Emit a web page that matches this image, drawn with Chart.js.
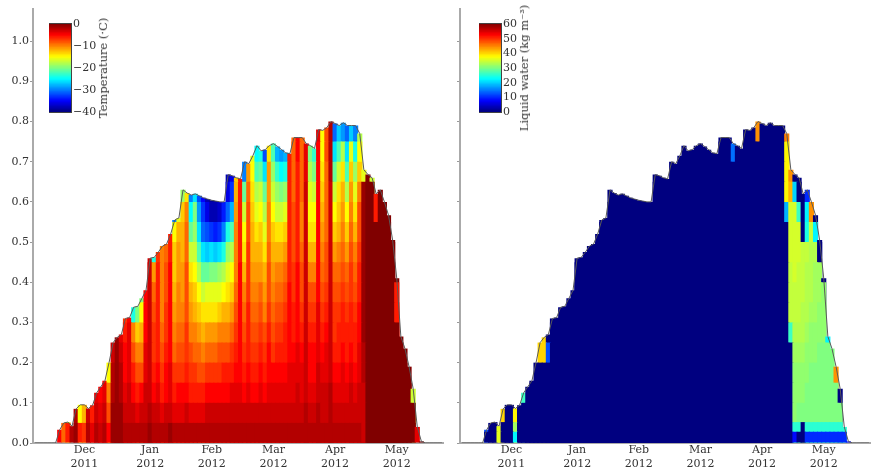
<!DOCTYPE html>
<html>
<head>
<meta charset="utf-8">
<script src="https://cdn.jsdelivr.net/npm/chart.js@4"></script>
<style>
  html, body { margin: 0; padding: 0; background: #fff; width: 871px; height: 468px; overflow: hidden; }
  canvas { position: absolute; filter: blur(.4px); }
  .cbar-title { position: absolute; font: 11.5px "DejaVu Serif"; color: #333; white-space: nowrap;
    transform: translate(-50%, -50%) rotate(-90deg); }
</style>
</head>
<body>
<canvas id="temperature" width="444" height="468" style="left:0;top:0"></canvas>
<canvas id="liquid" width="444" height="468" style="left:427px;top:0"></canvas>
<canvas id="temp-bar" width="60" height="108" style="left:49px;top:14px"></canvas>
<canvas id="liquid-bar" width="60" height="108" style="left:479px;top:14px"></canvas>
<div class="cbar-title" style="left:103px;top:68px">Temperature (·C)</div>
<div class="cbar-title" style="left:524px;top:68px">Liquid water (kg m⁻³)</div>
<script>
// one column = 2 days, first column 7 Nov 2011
const depths = [
  0, 0, 0, 0, 0, 0, .033, .05, .052, .042, .085, .095,
  .095, .086, .094, .125, .14, .155, .2, .25, .263, .27, .31, .312, .338, .34, .36, .38,
  .46, .462, .475, .49, .495, .52, .555, .56, .63, .622, .617, .62, .615, .61, .607,
  .604, .602, .6, .6, .668, .665, .66, .657, .7, .695, .715, .74, .727, .73, .74,
  .745, .738, .73, .722, .72, .76, .76, .76, .745, .74, .733, .78, .778, .785, .8,
  .795, .79, .797, .79, .79, .79, .77, .68, .668, .66, .62, .63, .6, .567, .505,
  .41, .265, .235, .19, .135, .04, .004, 0, 0, 0, 0, 0
];

const tickIndex = [12, 28, 43, 58, 73, 88];
const tickLabels = [['Dec', '2011'], ['Jan', '2012'], ['Feb', '2012'], ['Mar', '2012'], ['Apr', '2012'], ['May', '2012']];
const depthTicks = [0, .1, .2, .3, .4, .5, .6, .7, .8, .9, 1];

// temperature per column, from the ground up, one value per 0.05 m
const novColumns = [
  [], [], [], [], [], [],
  [-5], [-9], [-6, -16], [-2],
  [-1, -2], [-6, -15]
];
const decColumns = [
  [-7, -12], [-2, -3], [-4, -6], [-2, -3, -4], [-3, -4, -5], [-2, -3, -4, -5],
  [-5, -8, -10, -15], [-1, -1, -2, -2, -3], [-1, -1, -1, -1, -1, -1], [-1, -1, -2, -2, -3, -4],
  [-2, -3, -4, -5, -5, -6, -7], [-2, -3, -3, -4, -4, -4, -5],
  [-2, -3, -5, -6, -8, -10, -24], [-2, -4, -6, -8, -10, -13, -20],
  [-2, -3, -5, -8, -10, -12, -15, -20], [-2, -3, -3, -4, -4, -5, -5, -5]
];
const janColumns = [
  [-1, -2, -3, -3, -3, -3, -3, -3, -3, -3],
  [-2, -3, -5, -6, -7, -7, -8, -9, -11, -24],
  [-2, -3, -4, -5, -6, -6, -6, -6, -6, -7],
  [-2, -4, -6, -7, -8, -9, -10, -10, -10, -10],
  [-2, -3, -5, -5, -6, -7, -7, -8, -8, -9],
  [-1, -3, -4, -4, -5, -5, -5, -5, -5, -6, -6],
  [-2, -4, -6, -7, -9, -10, -11, -12, -13, -13, -15, -30],
  [-2, -4, -5, -7, -8, -9, -10, -10, -11, -11, -12, -16],
  [-2, -4, -5, -7, -8, -9, -10, -11, -11, -12, -12, -13, -19],
  [-2, -3, -5, -6, -7, -7, -8, -8, -8, -9, -9, -10, -14],
  [-2, -4, -6, -7, -8, -10, -11, -12, -14, -17, -21, -25, -30],
  [-2, -4, -6, -7, -9, -10, -12, -13, -15, -17, -19, -20, -26],
  [-2, -4, -6, -8, -9, -11, -13, -15, -18, -22, -26, -29, -32],
  [-2, -4, -6, -8, -10, -12, -14, -17, -21, -26, -31, -33, -35],
  [-2, -3, -5, -7, -9, -11, -14, -16, -21, -27, -32, -36, -38]
];
const febColumns = [
  [-2, -3, -5, -7, -9, -11, -14, -16, -20, -26, -33, -38, -39],
  [-2, -3, -5, -7, -9, -11, -14, -16, -20, -27, -34, -38, -39],
  [-2, -3, -5, -7, -8, -10, -13, -16, -19, -26, -33, -37, -39],
  [-2, -3, -5, -6, -8, -10, -12, -15, -18, -24, -30, -34, -36],
  [-2, -3, -5, -6, -8, -10, -12, -14, -16, -19, -24, -31, -36, -38],
  [-2, -3, -4, -6, -7, -9, -11, -13, -15, -18, -22, -28, -33, -36],
  [-2, -3, -4, -5, -6, -7, -8, -9, -10, -10, -10, -11, -12, -13],
  [-2, -3, -4, -5, -5, -5, -5, -5, -5, -6, -6, -6, -6, -6],
  [-2, -3, -5, -6, -7, -8, -9, -10, -12, -14, -15, -17, -21, -30],
  [-2, -3, -4, -5, -6, -6, -6, -7, -7, -7, -8, -8, -9, -11],
  [-2, -3, -5, -6, -7, -8, -9, -10, -11, -12, -12, -13, -14, -15, -16],
  [-2, -3, -5, -6, -7, -8, -9, -10, -11, -12, -14, -16, -18, -22, -25],
  [-2, -3, -4, -5, -6, -7, -8, -9, -11, -12, -13, -15, -17, -21, -24],
  [-2, -3, -5, -6, -7, -8, -10, -11, -12, -14, -16, -18, -21, -26, -32],
  [-2, -3, -4, -5, -5, -6, -7, -8, -8, -9, -10, -10, -11, -11, -14]
];
const marColumns = [
  [-2, -3, -4, -5, -7, -8, -9, -10, -11, -12, -13, -15, -17, -19, -22],
  [-2, -3, -4, -5, -6, -7, -8, -9, -10, -12, -14, -17, -19, -23, -28],
  [-2, -3, -4, -5, -6, -7, -8, -9, -10, -12, -14, -17, -20, -25, -29],
  [-2, -3, -4, -5, -6, -6, -7, -8, -9, -11, -13, -16, -19, -24, -28],
  [-2, -3, -4, -4, -5, -5, -5, -5, -6, -6, -6, -6, -6, -6, -6],
  [-2, -3, -4, -4, -5, -6, -6, -7, -7, -8, -8, -8, -9, -9, -9, -9],
  [-2, -3, -3, -4, -4, -5, -5, -5, -5, -6, -6, -6, -6, -6, -5, -5],
  [-2, -3, -4, -4, -5, -6, -7, -8, -8, -9, -10, -10, -9, -9, -9, -9],
  [-2, -2, -3, -3, -3, -3, -3, -3, -3, -3, -3, -3, -3, -4, -4],
  [-2, -3, -4, -5, -5, -6, -7, -8, -10, -12, -14, -15, -16, -18, -20],
  [-2, -3, -4, -5, -5, -6, -7, -8, -10, -12, -14, -15, -17, -20, -23],
  [-2, -2, -3, -3, -4, -4, -4, -5, -5, -5, -5, -5, -5, -5, -5, -4],
  [-2, -3, -3, -4, -5, -6, -7, -8, -9, -10, -11, -12, -13, -14, -15, -15],
  [-2, -3, -3, -4, -4, -5, -6, -7, -8, -8, -9, -9, -9, -9, -8, -8],
  [-2, -2, -2, -3, -3, -3, -3, -3, -3, -3, -3, -3, -3, -2, -2, -2]
];
const aprColumns = [
  [-2, -3, -4, -5, -6, -7, -7, -8, -9, -11, -13, -15, -17, -21, -26, -31],
  [-2, -3, -4, -5, -6, -6, -7, -8, -9, -10, -12, -13, -14, -17, -22, -27],
  [-2, -3, -4, -4, -5, -6, -6, -7, -8, -9, -10, -11, -12, -14, -18, -29],
  [-2, -3, -4, -5, -6, -6, -7, -8, -9, -11, -13, -15, -18, -22, -26, -31],
  [-2, -3, -3, -4, -5, -6, -6, -7, -7, -8, -9, -10, -11, -13, -16, -27],
  [-2, -3, -4, -5, -6, -6, -7, -8, -9, -10, -12, -14, -16, -19, -24, -30],
  [-2, -3, -3, -4, -4, -5, -5, -6, -6, -7, -8, -8, -10, -13, -15, -18],
  [-3, -3, -3, -2, -2, -1, -1, -1, -1, -1, -1, -1, -1, -16],
  [0],
  [0, 0, 0, 0, 0, 0, 0, 0, 0, 0, 0, 0, 0, -17],
  [0, 0, 0, 0, 0, 0, 0, 0, 0, 0, 0, -6, -6],
  [0], [0], [0], [0]
];
const mayColumns = [
  [0, 0, 0, 0, 0, 0, -6, -6, 0], [0], [0], [0],
  [0, 0, -17], [-4], [0], [], [], [], [], []
];

// liquid water, only the columns that hold any, same idea but with liquidTops bands
const liquidIndex = [6, 9, 10, 13, 15, 19, 20, 21, 66, 72, 79, 80, 81, 82, 83, 84, 85, 86, 87, 88, 89, 90, 91, 92, 93, 94];
const liquidProfiles = [
  [0, 12], [36, 36], [0, 0, 40], [22, 32, 38], [0, 0, 0, 26],
  [0, 0, 0, 0, 0, 40], [0, 0, 0, 0, 0, 40, 40], [0, 0, 0, 0, 0, 12],
  [0, 0, 0, 0, 0, 0, 0, 0, 0, 0, 0, 0, 0, 0, 0, 14],
  [0, 0, 0, 0, 0, 0, 0, 0, 0, 0, 0, 0, 0, 0, 0, 0, 44],
  [0, 0, 0, 0, 0, 0, 0, 0, 0, 0, 0, 0, 18, 38, 38, 38, 45],
  [0, 0, 0, 0, 0, 0, 26, 34, 34, 34, 35, 35, 35, 42, 44],
  [8, 25, 31, 31, 31, 32, 33, 34, 34, 35, 35, 35, 35, 20, 0],
  [0, 25, 30, 31, 31, 32, 33, 34, 34, 34, 35, 35, 26, 0, 0],
  [0, 0, 30, 31, 31, 32, 33, 33, 34, 34, 34, 0, 0, 0],
  [10, 25, 30, 30, 31, 31, 32, 33, 33, 33, 34, 24, 22, 10],
  [10, 25, 30, 30, 30, 31, 31, 32, 33, 33, 33, 34, 44],
  [10, 25, 30, 30, 30, 31, 31, 32, 32, 32, 33, 22, 0],
  [10, 25, 30, 30, 30, 30, 31, 31, 32, 32, 0, 0],
  [10, 25, 30, 30, 30, 30, 31, 31, 31, 0],
  [10, 25, 30, 30, 30, 30, 22], [10, 25, 30, 30, 30, 30], [10, 25, 30, 30, 44], [10, 25, 30, 0], [10, 25], [8]
];

const tempTops = [.05, .1, .15, .2, .25, .3, .35, .4, .45, .5, .55, .6, .65, .7, .75, .8, .85];
const liquidTops = [.028, .052, .1, .15, .2, .25, .3, .35, .4, .45, .5, .55, .6, .65, .7, .75, .85];

const tempColumns = [...novColumns, ...decColumns, ...janColumns, ...febColumns, ...marColumns, ...aprColumns, ...mayColumns];
const liquidColumns = depths.map((d, i) => {
  let j = liquidIndex.indexOf(i);
  return j < 0 ? [0] : liquidProfiles[j];
});

const categories = depths.map((d, i) => {
  let day = new Date(2011, 10, 7 + 2 * i);
  return day.toDateString();
});

function jet(t) {
  let part = (c) => Math.round(255 * Math.max(0, Math.min(1, 1.5 - Math.abs(4 * t - c))));
  return `rgb(${part(3)}, ${part(2)}, ${part(1)})`;
}

function bandDatasets(columns, tops, lo, hi, fill) {
  return tops.map((top, k) => {
    let bottom = k ? tops[k - 1] : 0;
    return {
      order: k + 1,
      data: depths.map(d => d > bottom ? Math.min(d, top) : 0),
      backgroundColor: columns.map(p => {
        let v = k < p.length ? p[k] : (fill === null ? p[p.length - 1] : fill);
        return jet(((v === undefined ? 0 : v) - lo) / (hi - lo));
      }),
      borderWidth: 0,
      barPercentage: 1.25,
      categoryPercentage: 1,
      grouped: false
    };
  });
}

const axisFont = { family: 'DejaVu Serif', size: 11 };

function depthChart(id, datasets, showLabels) {
  new Chart(document.getElementById(id), {
    type: 'bar',
    data: {
      labels: categories,
      datasets: [{
        type: 'line', order: 0, data: depths, borderColor: '#5a5a5a', borderWidth: 1,
        pointRadius: 0, tension: 0
      }, ...datasets]
    },
    options: {
      responsive: false,
      animation: false,
      devicePixelRatio: 1,
      layout: { padding: { top: 9 } },
      plugins: { legend: { display: false }, tooltip: { enabled: false } },
      scales: {
        x: {
          offset: true,
          border: { color: '#aaa', width: 2 },
          grid: { display: false, drawTicks: false },
          afterBuildTicks: s => { s.ticks = s.ticks.filter(t => tickIndex.includes(t.value)); },
          afterFit: s => { s.height = 25; },
          ticks: {
            autoSkip: false, maxRotation: 0, padding: 1, color: '#333', font: axisFont,
            callback: v => tickLabels[tickIndex.indexOf(v)]
          }
        },
        y: {
          min: 0,
          max: 1.08,
          border: { color: '#aaa', width: 2 },
          grid: { drawOnChartArea: false, tickLength: 3, color: '#999' },
          afterBuildTicks: s => { s.ticks = depthTicks.map(v => ({ value: v })); },
          afterFit: s => { s.width = 33; },
          ticks: {
            display: showLabels, padding: 1, color: '#333', font: axisFont,
            callback: v => v.toFixed(1)
          }
        }
      }
    }
  });
}

const outline = {
  id: 'outline',
  afterDraw(chart) {
    let a = chart.chartArea, ctx = chart.ctx;
    ctx.strokeStyle = '#444';
    ctx.lineWidth = 1;
    ctx.strokeRect(a.left - .5, a.top - .5, a.width + 1, a.height + 1);
  }
};

function colorBar(id, lo, hi, step) {
  let levels = [];
  for (let j = 0; j < 64; j++) levels.push(lo + (hi - lo) * (j + 1) / 64);
  new Chart(document.getElementById(id), {
    type: 'bar',
    data: {
      labels: [''],
      datasets: levels.map((v, j) => ({
        data: [v], base: lo, order: j, borderWidth: 0, grouped: false,
        barPercentage: 1, categoryPercentage: 1,
        backgroundColor: jet((j + .5) / 64)
      }))
    },
    plugins: [outline],
    options: {
      responsive: false,
      animation: false,
      devicePixelRatio: 1,
      layout: { padding: { top: 10, bottom: 10 } },
      plugins: { legend: { display: false }, tooltip: { enabled: false } },
      scales: {
        x: { display: false },
        y: {
          position: 'right',
          min: lo,
          max: hi,
          border: { display: false },
          grid: { display: false, drawTicks: false },
          afterFit: s => { s.width = 38; },
          ticks: {
            stepSize: step, autoSkip: false, padding: 2, color: '#333', font: axisFont,
            callback: v => String(v).replace('-', '−')
          }
        }
      }
    }
  });
}

depthChart('temperature', bandDatasets(tempColumns, tempTops, -40, 0, null), true);
depthChart('liquid', bandDatasets(liquidColumns, liquidTops, 0, 60, 0), false);
colorBar('temp-bar', -40, 0, 10);
colorBar('liquid-bar', 0, 60, 10);
</script>
</body>
</html>
